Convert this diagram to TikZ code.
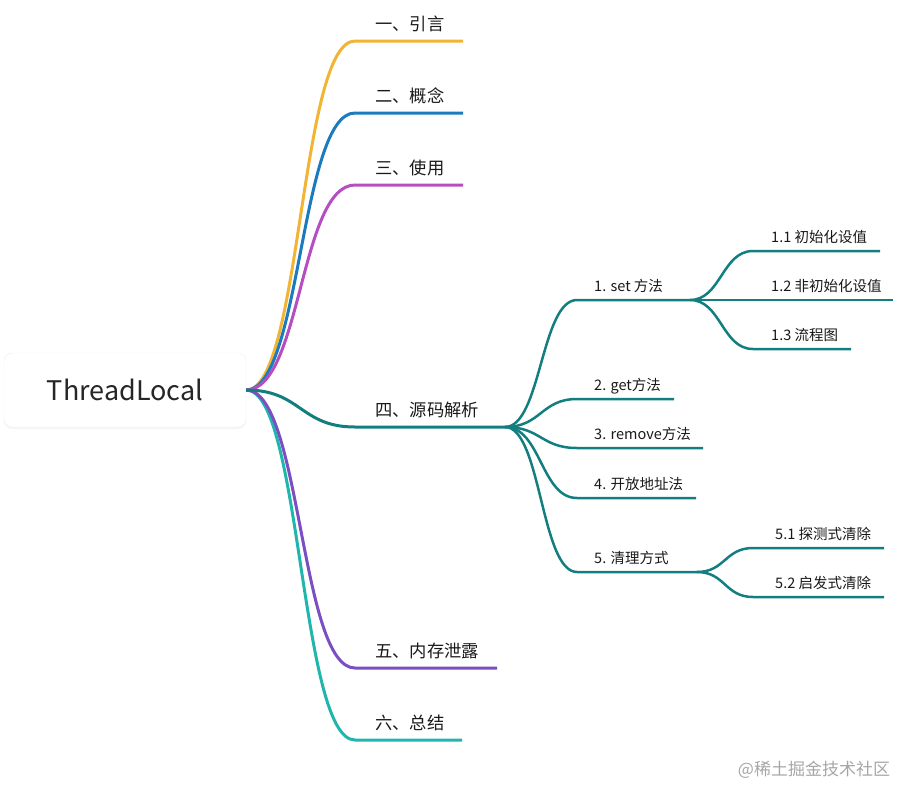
\documentclass[tikz,border=0pt]{standalone}
\usepackage{fontspec}
\setmainfont{Noto Sans CJK SC}
\usepackage{tikz}
\usetikzlibrary{shadows}

\definecolor{cyel}{HTML}{F1B434}
\definecolor{cblu}{HTML}{1C7BBF}
\definecolor{cmag}{HTML}{B64EC2}
\definecolor{ctea}{HTML}{127E80}
\definecolor{cpur}{HTML}{7B4FC2}
\definecolor{ccya}{HTML}{21B6AD}

\begin{document}
\begin{tikzpicture}[x=1pt,y=-1pt,
    main/.style={line width=3pt,out=0,in=180,distance=55pt},
    sub/.style={line width=2.5pt,color=ctea,out=0,in=180},
    mlab/.style={anchor=base west,inner sep=0pt,font=\fontsize{17.3}{17}\selectfont,text=black!90},
    slab/.style={anchor=base west,inner sep=0pt,font=\fontsize{14.5}{14.5}\selectfont,text=black!90}]
			\useasboundingbox (0,0) rectangle (917,803);
			\node[draw=black!6,fill=white,rounded corners=8pt,minimum width=242pt,minimum height=74pt,
			  drop shadow={opacity=0.08,shadow xshift=0pt,shadow yshift=-2pt},
			  font=\fontsize{27}{27}\selectfont,text=black!85] (root) at (125,390) {ThreadLocal};
			% main branches
			\coordinate (c1) at (355,41);  \coordinate (e1) at (463,41);
			\coordinate (c2) at (355,113); \coordinate (e2) at (463,113);
			\coordinate (c3) at (355,185); \coordinate (e3) at (463,185);
			\coordinate (c4) at (355,427); \coordinate (e4) at (505,427);
			\coordinate (c5) at (355,668); \coordinate (e5) at (497,668);
			\coordinate (c6) at (355,740); \coordinate (e6) at (462,740);
			\draw[main,cyel] (root.east) to (c1) -- (e1);
			\draw[main,cblu] (root.east) to (c2) -- (e2);
			\draw[main,cmag] (root.east) to (c3) -- (e3);
			\draw[main,ccya] (root.east) to (c6) -- (e6);
			\draw[main,cpur] (root.east) to (c5) -- (e5);
			\draw[main,ctea] (root.east) to (c4) -- (e4);
			\node[mlab] (yin) at (375,30) {一、引言};
			\node[mlab] (gainian) at (375,102) {二、概念};
			\node[mlab] (shiyong) at (375,174) {三、使用};
			\node[mlab] (yuanma) at (375,416) {四、源码解析};
			\node[mlab] (neicun) at (375,657) {五、内存泄露};
			\node[mlab] (zongjie) at (375,729) {六、总结};
			% children of the source-code branch
			\coordinate (c41) at (577,300); \coordinate (e41) at (690,300);
			\coordinate (c42) at (577,399); \coordinate (e42) at (674,399);
			\coordinate (c43) at (577,448); \coordinate (e43) at (703,448);
			\coordinate (c44) at (577,498); \coordinate (e44) at (696,498);
			\coordinate (c45) at (577,572); \coordinate (e45) at (697,572);
			\foreach \k in {41,42,43,44,45}
			  \draw[sub,distance=36pt] (e4) to (c\k) -- (e\k);
			\node[slab] (set) at (594,291) {1. set 方法};
			\node[slab] (get) at (594,390) {2. get方法};
			\node[slab] (remove) at (594,439) {3. remove方法};
			\node[slab] (kaifang) at (594,489) {4. 开放地址法};
			\node[slab] (qingli) at (594,563) {5. 清理方式};
			% set
			\coordinate (c411) at (753,251); \coordinate (e411) at (880,251);
			\coordinate (c412) at (753,300); \coordinate (e412) at (893,300);
			\coordinate (c413) at (753,349); \coordinate (e413) at (851,349);
			\foreach \k in {411,412,413}
			  \draw[sub,distance=31pt] (e41) to (c\k) -- (e\k);
			\node[slab] (chushi) at (771,242) {1.1 初始化设值};
			\node[slab] (feichushi) at (771,291) {1.2 非初始化设值};
			\node[slab] (liucheng) at (771,340) {1.3 流程图};
			% cleanup
			\coordinate (c451) at (753,548); \coordinate (e451) at (884,548);
			\coordinate (c452) at (753,597); \coordinate (e452) at (884,597);
			\foreach \k in {451,452}
			  \draw[sub,distance=28pt] (e45) to (c\k) -- (e\k);
			\node[slab] (tance) at (775,539) {5.1 探测式清除};
			\node[slab] (qifa) at (775,588) {5.2 启发式清除};
			\node[font=\fontsize{17}{17}\selectfont,text=black!35] (mark) at (814,770) {@稀土掘金技术社区};
		\end{tikzpicture}
\end{document}
